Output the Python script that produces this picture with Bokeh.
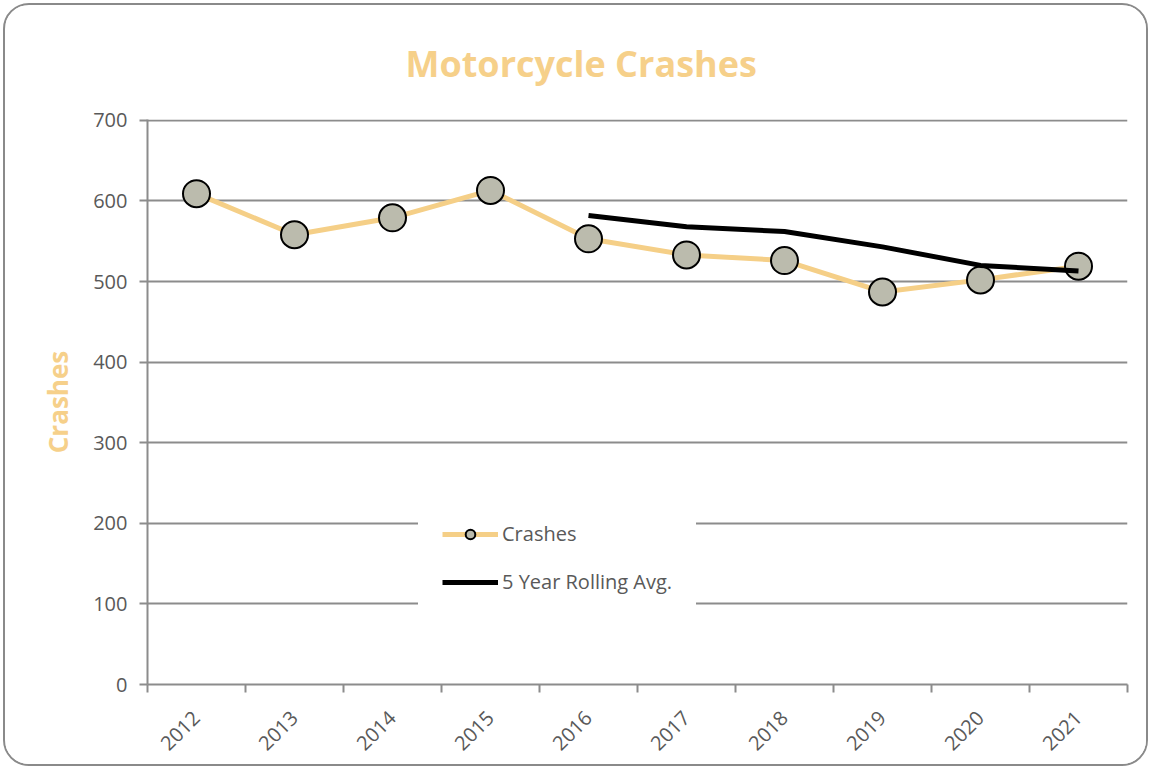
import math
from bokeh.plotting import figure
from bokeh.models import (Range1d, FixedTicker, Legend, LegendItem, Title)
from bokeh.embed import file_html
from bokeh.resources import INLINE

years = ["2012", "2013", "2014", "2015", "2016", "2017", "2018", "2019", "2020", "2021"]
crashes = [609, 558, 579, 613, 553, 533, 526, 487, 502, 519]
rolling_years = ["2016", "2017", "2018", "2019", "2020", "2021"]
rolling_avg = [582, 568, 562, 543, 520, 513]
y_ticks = [0, 100, 200, 300, 400, 500, 600, 700]

FONT = "Open Sans"
TXT = "#595959"
GRID = "#8c8c8c"
ORANGE = "#f5cf87"
TITLE_C = "#f6d08a"

x_pos = [i + 0.5 for i in range(len(years))]
pos_of = {y: i + 0.5 for i, y in enumerate(years)}
roll_x = [pos_of[y] for y in rolling_years]

p = figure(width=1145, height=763, output_backend="svg", toolbar_location=None,
           x_range=Range1d(0, len(years)), y_range=Range1d(0, 701),
           min_border_left=142, min_border_right=23, min_border_top=113,
           min_border_bottom=84, background_fill_color="white",
           border_fill_color="white", outline_line_color=None)
p.styles = {"border": "2px solid #8a8a8a", "border-radius": "26px",
            "overflow": "hidden", "margin": "3px 0 0 3px"}

p.title = Title(text="Motorcycle Crashes", align="left", text_font=FONT,
                text_font_size="36px", text_font_style="bold", text_color=TITLE_C,
                standoff=63, offset=258)

# grid
p.xgrid.visible = False
p.ygrid.ticker = FixedTicker(ticks=y_ticks)
p.ygrid.grid_line_color = GRID
p.ygrid.grid_line_width = 2

# x axis
xa = p.xaxis[0]
xa.ticker = FixedTicker(ticks=x_pos, minor_ticks=list(range(len(years) + 1)))
xa.major_label_overrides = {x: y for x, y in zip(x_pos, years)}
xa.major_tick_line_color = None
xa.minor_tick_line_color = GRID
xa.minor_tick_line_width = 2
xa.minor_tick_in = 0
xa.minor_tick_out = 8
xa.axis_line_color = GRID
xa.axis_line_width = 2
xa.major_label_orientation = math.pi / 4
xa.major_label_text_font = FONT
xa.major_label_text_font_size = "20px"
xa.major_label_text_color = TXT
xa.major_label_standoff = 22

# y axis
ya = p.yaxis[0]
ya.ticker = FixedTicker(ticks=y_ticks)
ya.minor_tick_line_color = None
ya.major_tick_line_color = GRID
ya.major_tick_line_width = 2
ya.major_tick_in = 0
ya.major_tick_out = 8
ya.axis_line_color = GRID
ya.axis_line_width = 2
ya.major_label_text_font = FONT
ya.major_label_text_font_size = "20px"
ya.major_label_text_color = TXT
ya.major_label_standoff = 12
ya.axis_label = "Crashes"
ya.axis_label_text_font = FONT
ya.axis_label_text_font_size = "26px"
ya.axis_label_text_font_style = "bold"
ya.axis_label_text_color = TITLE_C
ya.axis_label_standoff = 14

# series
l1 = p.line(x_pos, crashes, line_color=ORANGE, line_width=5)
s1 = p.scatter(x_pos, crashes, size=27, fill_color="#bbbbad", line_color="black",
               line_width=2)
l2 = p.line(roll_x, rolling_avg, line_color="black", line_width=5)

legend = Legend(items=[LegendItem(label="Crashes", renderers=[l1, s1]),
                       LegendItem(label="5 Year Rolling Avg.", renderers=[l2])],
                location=(271, 65), orientation="vertical",
                background_fill_color="white", background_fill_alpha=1,
                border_line_color="white", border_line_width=24,
                padding=0, margin=0,
                glyph_width=56, glyph_height=24, label_height=24, spacing=21,
                label_standoff=4, label_text_font=FONT, label_text_font_size="20px",
                label_text_color=TXT)
p.add_layout(legend, "center")

open("out.html", "w").write(file_html(p, INLINE))
